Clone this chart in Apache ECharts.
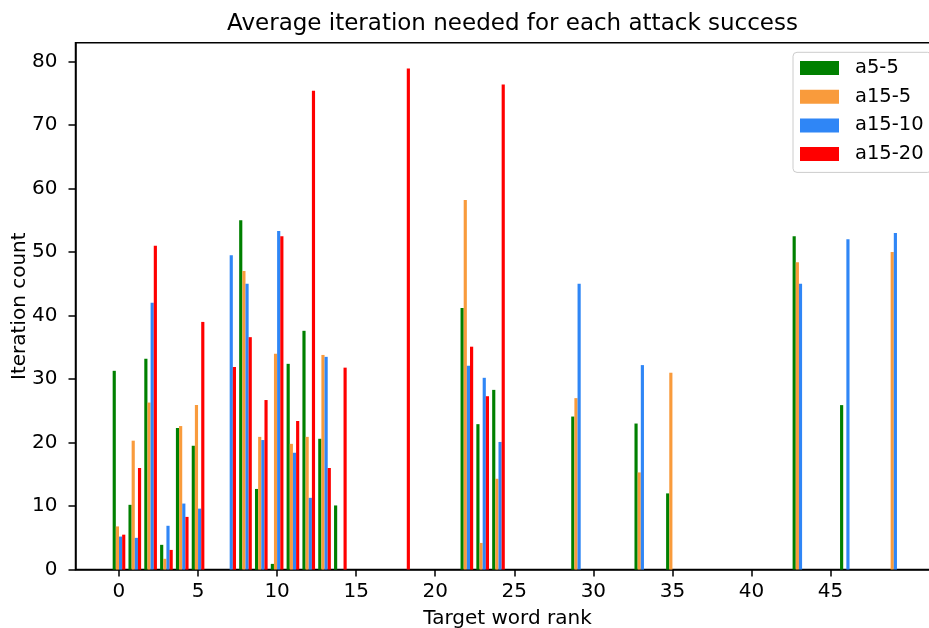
<!DOCTYPE html>
<html>
<head>
<meta charset="utf-8">
<script src="https://cdn.jsdelivr.net/npm/echarts@6/dist/echarts.min.js"></script>
<style>
html,body{margin:0;padding:0;background:#fff;overflow:hidden;}
#chart{width:929px;height:628px;}
</style>
</head>
<body>
<div id="chart"></div>
<script>
// Data
const ranks = [0, 1, 2, 3, 4, 5, 7, 8, 9, 10, 11, 12, 13, 14, 18, 22, 23, 24, 29, 33, 35, 43, 46, 49];
const a5_5   = [31.3, 10.2, 33.2, 3.9, 22.3, 19.5, 0, 55.0, 12.7, 0.9, 32.4, 37.6, 20.6, 10.1, 0, 41.2, 22.9, 28.3, 24.1, 23.0, 12.0, 52.5, 25.9, 0];
const a15_5  = [6.8, 20.3, 26.3, 1.7, 22.6, 25.9, 0, 47.0, 20.9, 34.0, 19.8, 20.9, 33.8, 0, 0, 58.2, 4.2, 14.3, 27.0, 15.3, 31.0, 48.4, 0, 50.0];
const a15_10 = [5.2, 5.0, 42.0, 6.9, 10.4, 9.6, 49.5, 45.0, 20.4, 53.3, 18.4, 11.3, 33.5, 0, 0, 32.1, 30.2, 20.1, 45.0, 32.2, 0, 45.0, 52.0, 53.0];
const a15_20 = [5.5, 16.0, 51.0, 3.1, 8.3, 39.0, 31.9, 36.6, 26.7, 52.5, 23.4, 75.4, 16.0, 31.8, 78.9, 35.1, 27.3, 76.4, 0, 0, 0, 0, 0, 0];
const seriesNames = ['a5-5', 'a15-5', 'a15-10', 'a15-20'];
const xTicks = [0, 5, 10, 15, 20, 25, 30, 35, 40, 45];
const yTicks = [0, 10, 20, 30, 40, 50, 60, 70, 80];

const seriesValues = [a5_5, a15_5, a15_10, a15_20];
const colors = ['#008000', '#f99b3c', '#2f86f6', '#ff0000'];
const offsets = [-0.3, -0.1, 0.1, 0.3];
const barW = 0.2;
const FONT = 'DejaVu Sans';

const chart = echarts.init(document.getElementById('chart'), null, {renderer: 'canvas'});

function makeSeries(i) {
  return {
    name: seriesNames[i],
    type: 'custom',
    itemStyle: {color: colors[i]},
    encode: {x: 0, y: 1},
    data: ranks.map((r, k) => [r, seriesValues[i][k]]),
    renderItem: function (params, api) {
      const x = api.value(0), v = api.value(1);
      const p0 = api.coord([x + offsets[i] - barW / 2, v]);
      const p1 = api.coord([x + offsets[i] + barW / 2, 0]);
      return {
        type: 'rect',
        shape: {x: p0[0], y: p0[1], width: p1[0] - p0[0], height: p1[1] - p0[1]},
        style: {fill: api.visual('color')}
      };
    }
  };
}

const axisCommon = {
  axisLine: {show: true, onZero: false, lineStyle: {color: '#000', width: 1.5}},
  axisTick: {show: true, inside: false, length: 7, lineStyle: {color: '#000', width: 1.5}},
  splitLine: {show: false},
  nameMoveOverlap: false,
  nameTextStyle: {fontFamily: FONT, fontSize: 20, color: '#000'}
};

chart.setOption({
  animation: false,
  backgroundColor: '#fff',
  title: {
    text: 'Average iteration needed for each attack success',
    left: 507.5,
    textAlign: 'center',
    top: 8,
    textStyle: {fontFamily: FONT, fontSize: 23, fontWeight: 'normal', color: '#000'}
  },
  legend: {
    orient: 'vertical',
    left: 793,
    top: 52.3,
    padding: [5.7, 8, 8.3, 7],
    itemWidth: 39,
    itemHeight: 14,
    itemGap: 8.7,
    icon: 'rect',
    backgroundColor: 'rgba(255,255,255,0.8)',
    borderColor: '#cccccc',
    borderWidth: 1,
    borderRadius: 4,
    data: seriesNames,
    textStyle: {fontFamily: FONT, fontSize: 19.5, color: '#000', lineHeight: 20, padding: [0, 0, 0, 11]}
  },
  grid: {
    left: 75.5, width: 864, top: 42.8, height: 526.8,
    outerBoundsMode: 'none',
    containLabel: false,
    show: true, borderColor: '#000', borderWidth: 1.5, backgroundColor: 'transparent'
  },
  xAxis: Object.assign({}, axisCommon, {
    type: 'value',
    min: -2.75,
    max: 51.89,
    name: 'Target word rank',
    nameLocation: 'middle',
    nameGap: 39,
    axisTick: Object.assign({}, axisCommon.axisTick, {customValues: xTicks}),
    axisLabel: {customValues: xTicks, fontFamily: FONT, fontSize: 20, color: '#000', margin: 12}
  }),
  yAxis: Object.assign({}, axisCommon, {
    type: 'value',
    min: 0,
    max: 82.95,
    name: 'Iteration count',
    nameLocation: 'middle',
    nameGap: 46,
    axisTick: Object.assign({}, axisCommon.axisTick, {customValues: yTicks}),
    axisLabel: {customValues: yTicks, fontFamily: FONT, fontSize: 20, color: '#000', margin: 18}
  }),
  series: [0, 1, 2, 3].map(makeSeries)
});
</script>
</body>
</html>
